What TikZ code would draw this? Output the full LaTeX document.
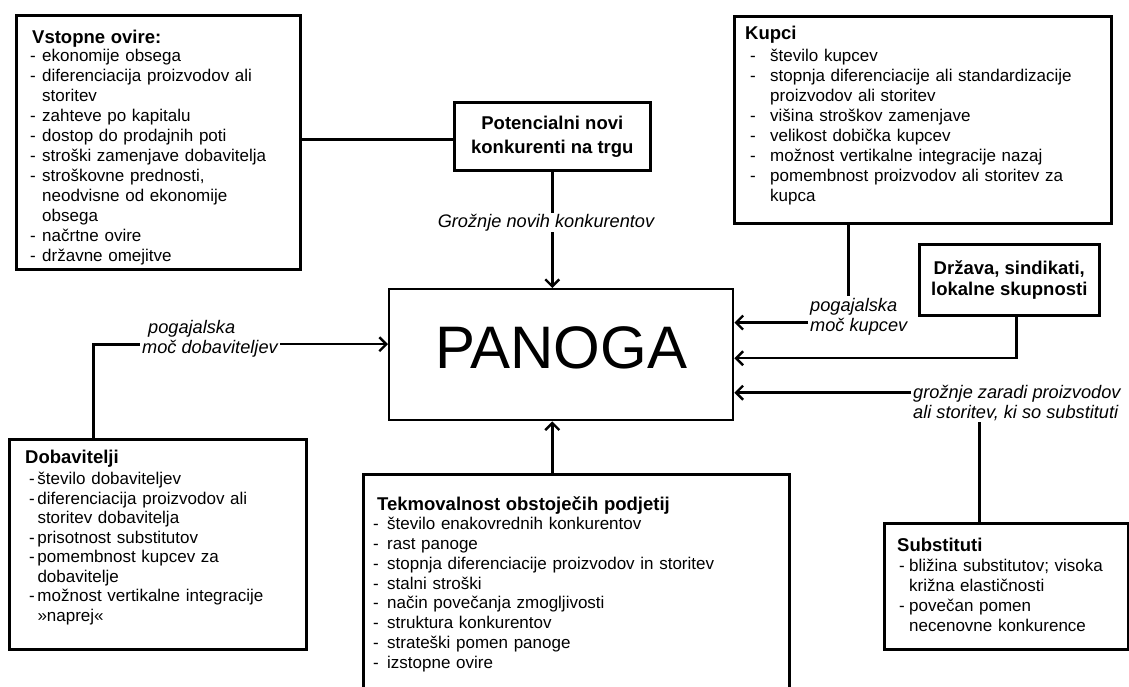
\documentclass[tikz,border=0pt]{standalone}
\usepackage{fontspec}
\setmainfont{Liberation Sans}
\usetikzlibrary{arrows.meta}
\newcommand\lstitem[3]{\par\hangindent=#2\hangafter=1\noindent\makebox[#2][l]{\hspace*{#1}-}#3}
\newcommand\boxttl[1]{{\fontsize{18.5}{20}\selectfont\bfseries\rule{0pt}{18pt}#1}}
\tikzset{
  fbox/.style={draw, line width=2.6pt, inner sep=0pt, anchor=north west},
  btxt/.style={anchor=north west, inner sep=0pt, text width=#1, align=left,
               font=\fontsize{17}{20}\selectfont},
  ctxt/.style={align=center, font=\fontsize{18.5}{24}\selectfont\bfseries},
  lab/.style={inner xsep=2pt, inner ysep=1pt, align=left,
              font=\fontsize{18.2}{20}\selectfont\itshape},
  conn/.style={line width=2.6pt},
  arr/.style={line width=2.4pt, -{Straight Barb[length=7pt,width=14pt]}}
}
\begin{document}
\begin{tikzpicture}[x=1pt,y=-1pt]
\useasboundingbox (0,0) rectangle (1129,686);
\clip (0,0) rectangle (1129,686);
\fill[white] (0,0) rectangle (1129,686);

% boxes
\node[fbox, minimum width=284pt, minimum height=254pt] (vstop) at (15,14) {};
\node[fbox, minimum width=196pt, minimum height=68pt, ctxt] (pot) at (453,101) {Potencialni novi\\konkurenti na trgu};
\node[fbox, minimum width=377pt, minimum height=207pt] (kupci) at (733,15) {};
\node[fbox, minimum width=180pt, minimum height=71pt, ctxt, font=\fontsize{18.5}{21}\selectfont\bfseries] (drz) at (918,243) {Država, sindikati,\\lokalne skupnosti};
\node[fbox, line width=2.4pt, minimum width=344pt, minimum height=131pt, text depth=14pt, font=\fontsize{60}{60}\selectfont] (panoga) at (388,288) {PANOGA};
\node[fbox, minimum width=297pt, minimum height=210pt] (dob) at (8,438) {};
\node[fbox, minimum width=426pt, minimum height=300pt] (tek) at (362,473) {};
\node[fbox, minimum width=244pt, minimum height=126pt] (sub) at (883,522) {};

% box texts
\node[btxt=265pt] (vstoptxt) at (30,25.5) {\hspace*{2pt}\boxttl{Vstopne ovire:}\par\vspace{-2.5pt}
\lstitem{0pt}{12pt}{ekonomije obsega}
\lstitem{0pt}{12pt}{diferenciacija proizvodov ali\newline storitev}
\lstitem{0pt}{12pt}{zahteve po kapitalu}
\lstitem{0pt}{12pt}{dostop do prodajnih poti}
\lstitem{0pt}{12pt}{stroški zamenjave dobavitelja}
\lstitem{0pt}{12pt}{stroškovne prednosti,\newline neodvisne od ekonomije\newline obsega}
\lstitem{0pt}{12pt}{načrtne ovire}
\lstitem{0pt}{12pt}{državne omejitve}\par};

\node[btxt=360pt] (kupcitxt) at (745,21.3) {\boxttl{Kupci}\par\vspace{1.7pt}
\lstitem{5pt}{25pt}{število kupcev}
\lstitem{5pt}{25pt}{stopnja diferenciacije ali standardizacije\newline proizvodov ali storitev}
\lstitem{5pt}{25pt}{višina stroškov zamenjave}
\lstitem{5pt}{25pt}{velikost dobička kupcev}
\lstitem{5pt}{25pt}{možnost vertikalne integracije nazaj}
\lstitem{5pt}{25pt}{pomembnost proizvodov ali storitev za\newline kupca}\par};

\node[btxt=275pt, font=\fontsize{17}{19.5}\selectfont] (dobtxt) at (25,445.3) {\boxttl{Dobavitelji}\par\vspace{1.7pt}
\lstitem{4pt}{12.3pt}{število dobaviteljev}
\lstitem{4pt}{12.3pt}{diferenciacija proizvodov ali\newline storitev dobavitelja}
\lstitem{4pt}{12.3pt}{prisotnost substitutov}
\lstitem{4pt}{12.3pt}{pomembnost kupcev za\newline dobavitelje}
\lstitem{4pt}{12.3pt}{možnost vertikalne integracije\newline »naprej«}\par};

\node[btxt=410pt, font=\fontsize{17}{19.75}\selectfont] (tektxt) at (373,492) {\hspace*{4pt}\boxttl{Tekmovalnost obstoječih podjetij}\par
\lstitem{0pt}{14pt}{število enakovrednih konkurentov}
\lstitem{0pt}{14pt}{rast panoge}
\lstitem{0pt}{14pt}{stopnja diferenciacije proizvodov in storitev}
\lstitem{0pt}{14pt}{stalni stroški}
\lstitem{0pt}{14pt}{način povečanja zmogljivosti}
\lstitem{0pt}{14pt}{struktura konkurentov}
\lstitem{0pt}{14pt}{strateški pomen panoge}
\lstitem{0pt}{14pt}{izstopne ovire}\par};

\node[btxt=225pt] (subtxt) at (897,533.7) {\boxttl{Substituti}\par
\lstitem{2pt}{12pt}{bližina substitutov; visoka\newline križna elastičnosti}
\lstitem{2pt}{12pt}{povečan pomen\newline necenovne konkurence}\par};

% connector labels
\node[lab, anchor=base] (grlab) at (546,227.3) {Grožnje novih konkurentov};
\node[lab, anchor=north west] (kuplab) at (808,296) {\rule{0pt}{14pt}pogajalska\\moč kupcev};
\node[lab, anchor=north west] (sublab) at (911,383.3) {\rule{0pt}{14pt}grožnje zaradi proizvodov\\ali storitev, ki so substituti};
\node[lab, anchor=north west] (doblab) at (140,318.3) {\rule{0pt}{14pt}\hspace*{6pt}pogajalska\\moč dobaviteljev};

% connectors
\draw[conn] ([yshift=-3pt]pot.west -| vstop.east) -- ([yshift=-3pt]pot.west);
\draw[conn] (pot.south) -- (pot.south |- grlab.north);
\draw[arr] (pot.south |- grlab.south) -- (pot.south |- panoga.north);
\draw[conn] ([xshift=-74.5pt]kupci.south) -- ([xshift=-74.5pt]kupci.south |- kuplab.north);
\draw[arr] ([yshift=-6.5pt]kuplab.west) -- ([yshift=-6.5pt]kuplab.west -| panoga.east);
\draw[arr] ([xshift=7pt]drz.south) |- ([yshift=-3.5pt]panoga.east);
\draw[conn] ([xshift=-27pt]sub.north) -- ([xshift=-27pt]sub.north |- sublab.south);
\draw[arr] ([yshift=10pt]sublab.west) -- ([yshift=10pt]sublab.west -| panoga.east);
\draw[conn] ([xshift=-64.5pt]dob.north) |- ([yshift=10.5pt]panoga.west -| doblab.west);
\draw[arr] ([yshift=10.5pt]panoga.west -| doblab.east) -- ([yshift=10.5pt]panoga.west);
\draw[arr] (pot.south |- tek.north) -- (pot.south |- panoga.south);
\end{tikzpicture}
\end{document}
